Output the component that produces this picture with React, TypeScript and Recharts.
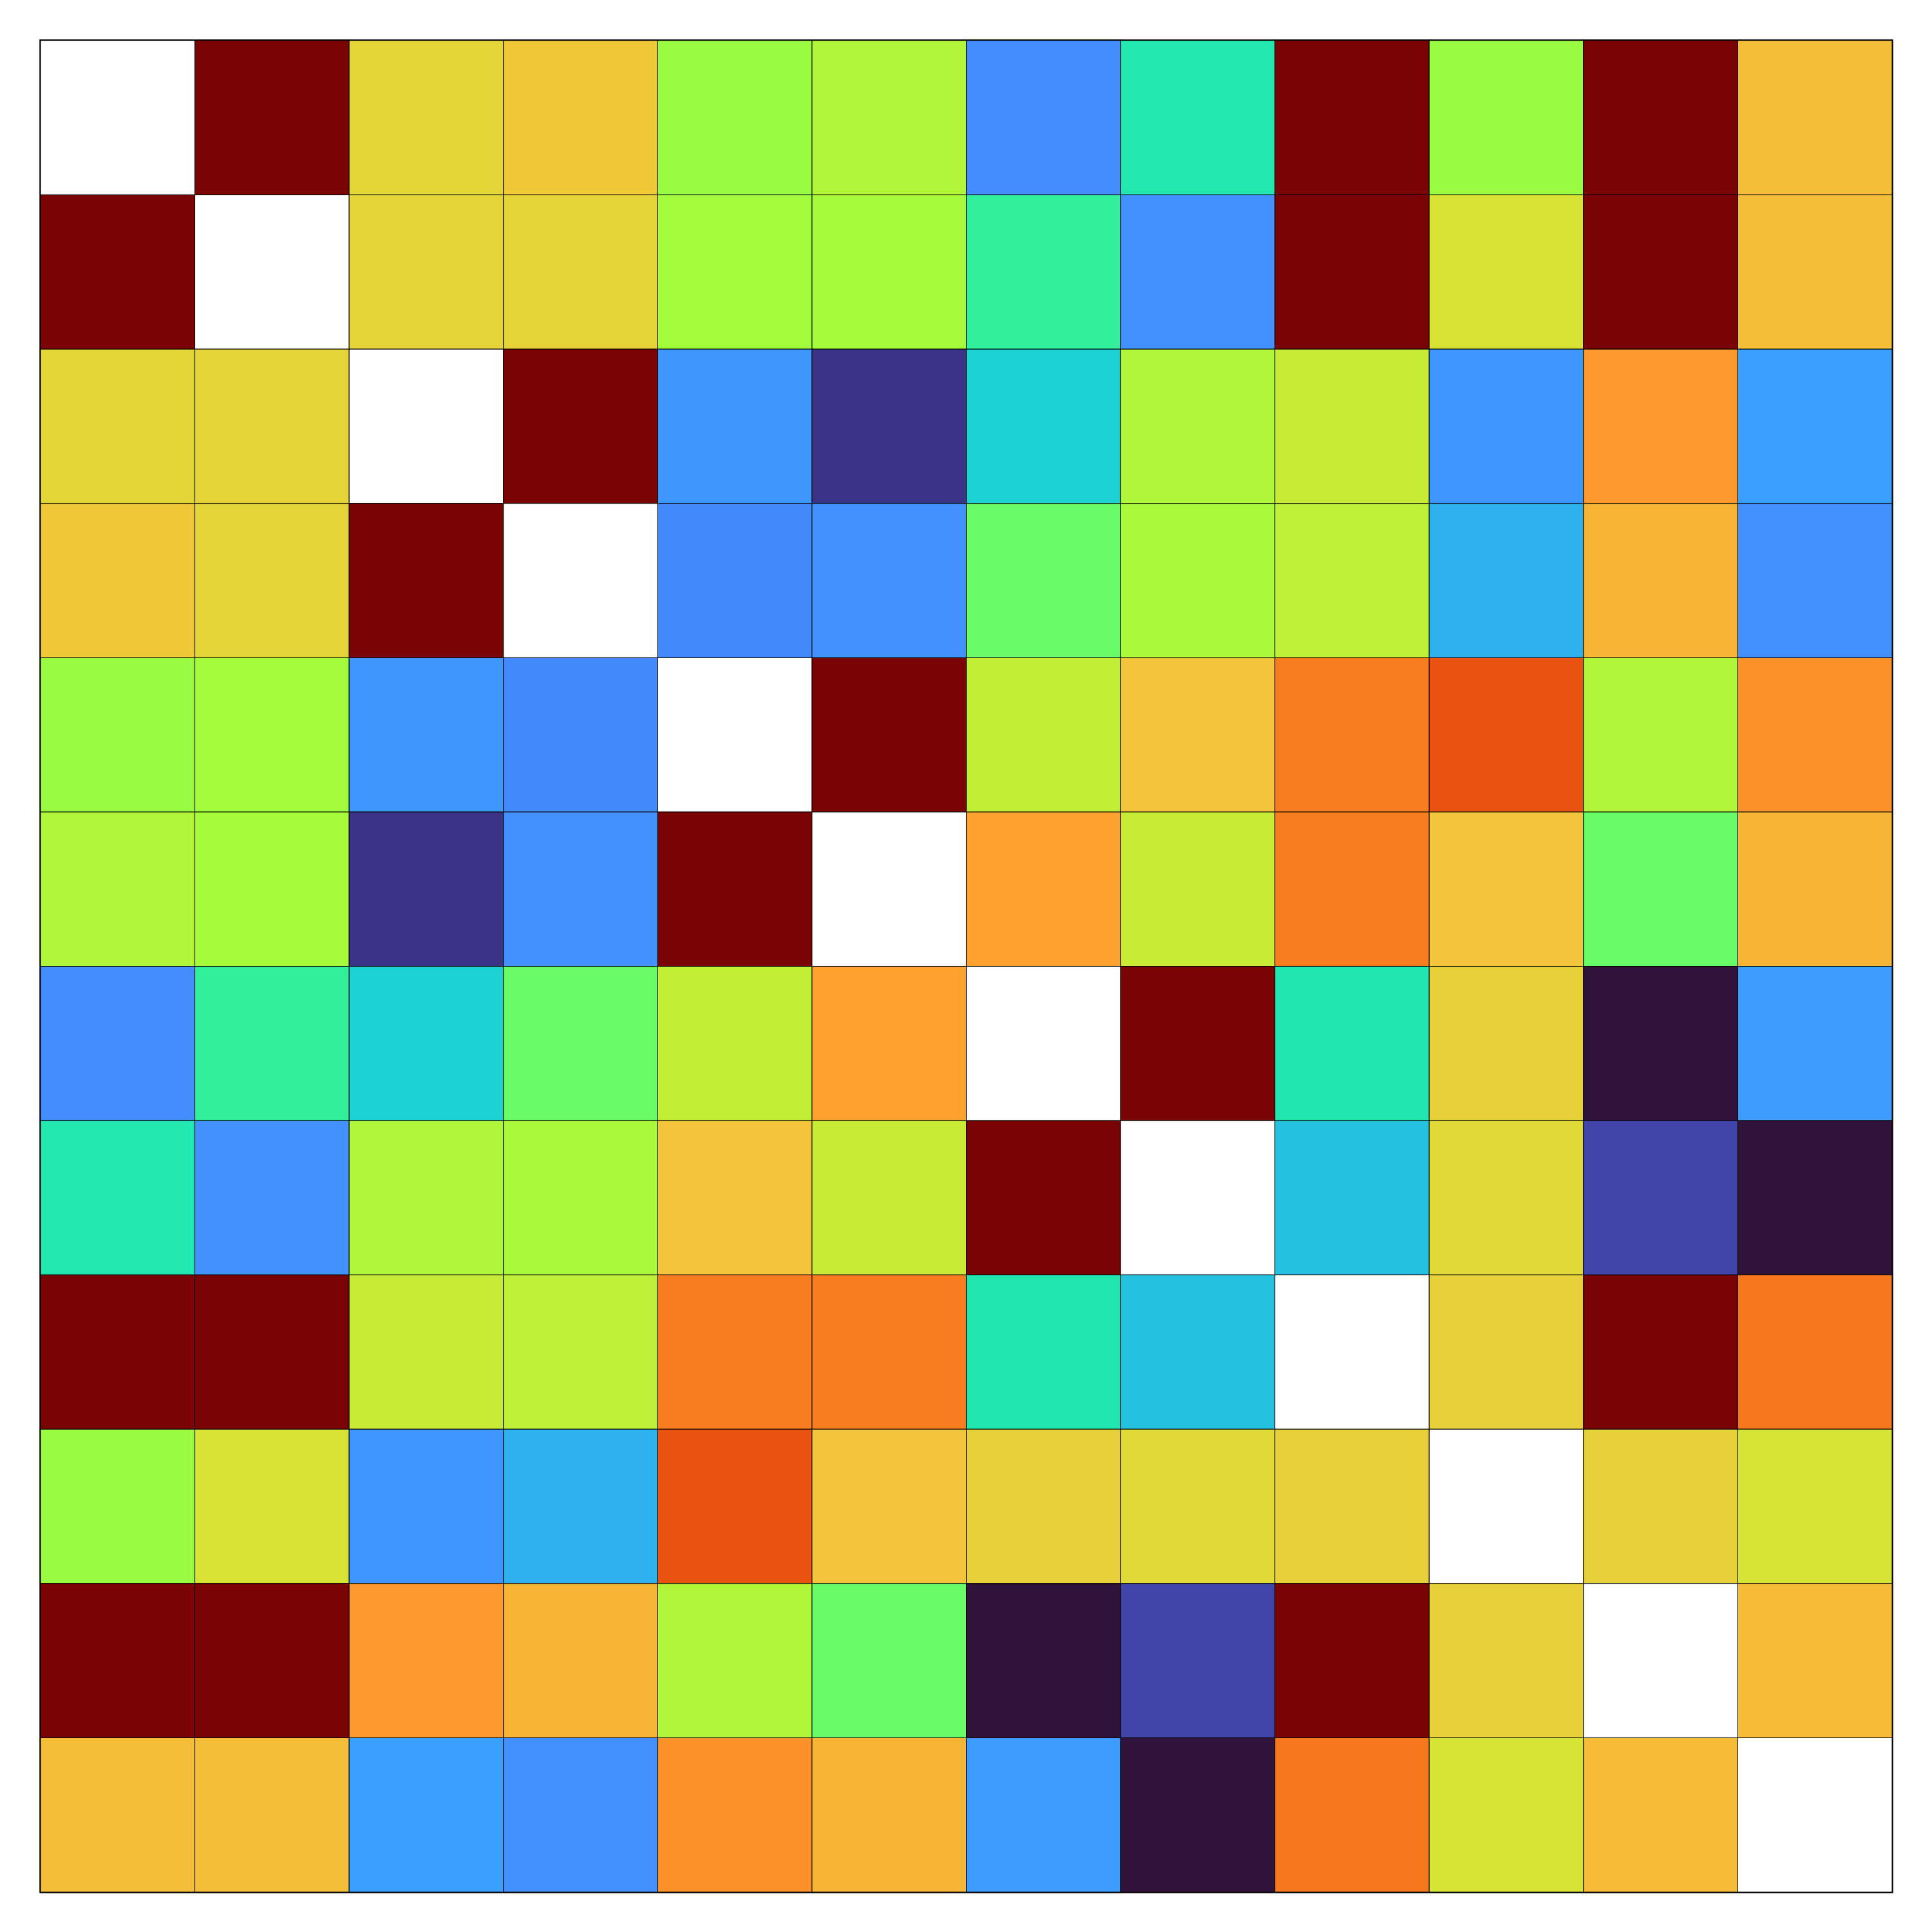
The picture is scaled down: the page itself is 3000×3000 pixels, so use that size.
import React from 'react';
import { ScatterChart, Scatter, XAxis, YAxis, ReferenceArea } from 'recharts';

// 12x12 symmetric matrix, diagonal left empty (drawn white).
// values above 1 show as the darkest red.
const size = 12;
const row0 = [null, 1.0, 0.61, 0.636, 0.488, 0.52, 0.178, 0.345, 1.0, 0.488, 1.0, 0.656];
const row1 = [1.0, null, 0.613, 0.613, 0.498, 0.503, 0.372, 0.185, 1.0, 0.584, 1.0, 0.656];
const row2 = [0.61, 0.613, null, 1.0, 0.195, 0.048, 0.29, 0.519, 0.557, 0.196, 0.715, 0.21];
const row3 = [0.636, 0.613, 1.0, null, 0.175, 0.185, 0.436, 0.51, 0.541, 0.24, 0.671, 0.183];
const row4 = [0.488, 0.498, 0.195, 0.175, null, 1.0, 0.548, 0.645, 0.752, 0.812, 0.519, 0.727];
const row5 = [0.52, 0.503, 0.048, 0.185, 1.0, null, 0.705, 0.557, 0.752, 0.645, 0.436, 0.671];
const row6 = [0.178, 0.372, 0.29, 0.436, 0.548, 0.705, null, 1.0, 0.342, 0.62, 0.0, 0.205];
const row7 = [0.345, 0.185, 0.519, 0.51, 0.645, 0.557, 1.0, null, 0.265, 0.603, 0.07, 0.0];
const row8 = [1.0, 1.0, 0.557, 0.541, 0.752, 0.752, 0.342, 0.265, null, 0.62, 1.0, 0.76];
const row9 = [0.488, 0.584, 0.196, 0.24, 0.812, 0.645, 0.62, 0.603, 0.62, null, 0.62, 0.58];
const row10 = [1.0, 1.0, 0.715, 0.671, 0.519, 0.436, 0.0, 0.07, 1.0, 0.62, null, 0.66];
const row11 = [0.656, 0.656, 0.21, 0.183, 0.727, 0.671, 0.205, 0.0, 0.76, 0.58, 0.66, null];

const matrix = [row0, row1, row2, row3, row4, row5, row6, row7, row8, row9, row10, row11];

// turbo colormap stops: [position, r, g, b]
const turboStops = [
  [0, 48, 18, 59], [1 / 14, 65, 69, 171], [2 / 14, 70, 117, 237], [0.18, 67, 142, 255],
  [3 / 14, 57, 162, 253], [4 / 14, 27, 207, 212], [5 / 14, 36, 236, 166], [6 / 14, 97, 252, 108],
  [7 / 14, 164, 252, 59], [8 / 14, 209, 232, 52], [9 / 14, 243, 198, 58], [10 / 14, 254, 155, 45],
  [11 / 14, 243, 99, 21], [12 / 14, 217, 56, 6], [13 / 14, 177, 25, 1], [1, 122, 4, 3],
];

function turbo(v: number | null) {
  if (v === null) return '#ffffff';
  const t = Math.max(0, Math.min(1, v));
  let i = 0;
  while (i < turboStops.length - 2 && t > turboStops[i + 1][0]) i++;
  const a = turboStops[i];
  const b = turboStops[i + 1];
  const f = (t - a[0]) / (b[0] - a[0]);
  const c = [1, 2, 3].map((k) => Math.round(a[k] + (b[k] - a[k]) * f));
  return `rgb(${c[0]},${c[1]},${c[2]})`;
}

const WIDTH = 3000;
const HEIGHT = 3000;
const margin = { top: 63, right: 62, bottom: 62, left: 63 };
const cellW = (WIDTH - margin.left - margin.right) / size;
const cellH = (HEIGHT - margin.top - margin.bottom) / size;

const points = matrix.flatMap((row, r) =>
  row.map((value, c) => ({ x: c + 0.5, y: r + 0.5, value }))
);

function Cell(props: any) {
  const { cx, cy, payload } = props;
  return (
    <rect
      x={cx - cellW / 2}
      y={cy - cellH / 2}
      width={cellW}
      height={cellH}
      fill={turbo(payload.value)}
      stroke="#000"
      strokeWidth={1}
    />
  );
}

export default function App() {
  return (
    <div style={{ position: 'absolute', left: 0, top: 0, background: '#fff' }}>
      <ScatterChart width={WIDTH} height={HEIGHT} margin={margin}>
        <XAxis type="number" dataKey="x" domain={[0, size]} hide />
        <YAxis type="number" dataKey="y" domain={[0, size]} reversed hide />
        <Scatter data={points} shape={<Cell />} isAnimationActive={false} />
        <ReferenceArea
          x1={0}
          x2={size}
          y1={0}
          y2={size}
          fill="none"
          fillOpacity={0}
          stroke="#000"
          strokeWidth={3.5}
          ifOverflow="visible"
        />
      </ScatterChart>
    </div>
  );
}
